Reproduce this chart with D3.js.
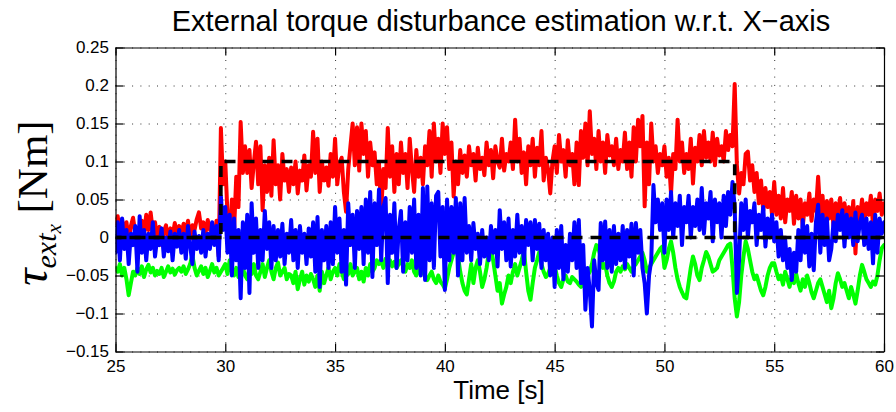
<!DOCTYPE html>
<html>
<head>
<meta charset="utf-8">
<script src="https://cdn.jsdelivr.net/npm/d3@7"></script>
<style>
  body { margin: 0; background: #fff; }
  svg { display: block; }
</style>
</head>
<body>
<div id="chart"></div>
<script>
// External torque disturbance estimate (X axis), sampled every 0.1 s from 25 s to 60 s

const startTime = 25;
const sampleStep = 0.1;

// red: estimate along the stepped reference
const redTorque = [
  .018,.028,.005,.024,.002,.020,-.004,.015,.026,.006,
  .012,-.006,.022,.004,.030,.010,.033,.008,.020,.000,
  .014,-.010,.008,.016,-.004,.012,.002,.019,.006,.015,
  .004,.018,.008,.022,-.002,.016,.010,.024,.033,.012,
  .020,.006,.023,.010,.018,-.008,.022,-.025,.144,.070,
  .100,.030,-.005,.050,.010,.080,.040,.152,.085,.120,
  .085,.115,.065,.098,.126,.070,.120,.036,.095,.060,
  .105,.055,.128,.070,.095,.050,.110,.075,.090,.060,
  .092,.070,.100,.058,.088,.075,.108,.062,.095,.080,
  .139,.085,.130,.060,.100,.075,.092,.068,.110,.080,
  .130,.070,.098,.105,.060,.034,.090,.120,.150,.095,
  .145,.088,.150,.110,.140,.080,.125,.095,.112,.070,
  .098,.034,.090,.065,.144,.080,.120,.060,.110,.070,
  .125,.085,.110,.065,.130,.090,.060,.115,.080,.105,
  .070,.120,.095,.140,.080,.150,.100,.130,.085,.150,
  .110,.145,.090,.125,.054,.100,.070,.115,.085,.108,
  .080,.120,.095,.110,.075,.118,.090,.105,.082,.125,
  .095,.115,.078,.120,.100,.092,.130,.088,.110,.100,
  .125,.090,.155,.100,.130,.085,.112,.070,.120,.095,
  .130,.080,.118,.095,.140,.075,.105,.090,.058,.100,
  .120,.085,.135,.100,.115,.080,.128,.095,.110,.070,
  .125,.069,.140,.105,.150,.095,.166,.110,.130,.090,
  .140,.100,.125,.085,.135,.108,.120,.095,.130,.090,
  .115,.100,.138,.090,.125,.080,.145,.100,.155,.120,
  .160,.041,.125,.070,.150,.100,.120,.085,.110,.095,
  .120,.080,.105,.058,.110,.090,.155,.100,.125,.085,
  .110,.090,.130,.071,.118,.100,.135,.095,.140,.105,
  .125,.100,.138,.095,.130,.108,.120,.100,.140,.115,
  .135,.120,.202,.095,.058,.085,.070,.110,.113,.075,
  .095,.060,.085,.045,.075,.035,.065,.040,.060,.030,
  .073,.030,.055,.025,.065,.020,.050,.035,.060,.018,
  .055,.025,.050,.014,.045,.030,.058,.022,.050,.035,
  .080,.030,.055,.020,.048,.025,.050,.015,.045,.028,
  .052,.020,.045,.025,.040,.010,.048,-.021,.040,.025,
  .050,.020,.045,.030,.055,.015,.050,.035,.058,.030,
  .045
];

// green
const greenTorque = [
  -.040,-.045,-.035,-.050,-.040,-.055,-.076,-.060,-.045,-.050,
  -.040,-.048,-.038,-.052,-.042,-.036,-.046,-.040,-.050,-.044,
  -.048,-.040,-.052,-.045,-.038,-.046,-.041,-.049,-.043,-.040,
  -.045,-.038,-.048,-.042,-.035,-.023,-.040,-.050,-.044,-.038,
  -.048,-.040,-.052,-.044,-.035,-.046,-.040,-.050,-.045,-.040,
  -.035,-.048,-.030,-.045,-.050,-.040,-.052,-.045,-.040,-.050,
  -.055,-.040,-.048,-.035,-.050,-.055,-.045,-.035,-.052,-.040,
  -.030,-.045,-.055,-.040,-.033,-.050,-.045,-.040,-.055,-.048,
  -.050,-.060,-.045,-.068,-.055,-.045,-.062,-.050,-.058,-.048,
  -.055,-.065,-.050,-.070,-.045,-.060,-.050,-.040,-.055,-.045,
  -.040,-.050,-.035,-.045,-.055,-.040,-.048,-.035,-.050,-.045,
  -.040,-.055,-.045,-.058,-.040,-.050,-.035,-.045,-.040,-.030,
  -.035,-.030,-.040,-.028,-.035,-.030,-.038,-.032,-.040,-.035,
  -.030,-.038,-.045,-.035,-.040,-.030,-.045,-.050,-.040,-.048,
  -.045,-.050,-.056,-.050,-.045,-.055,-.060,-.050,-.058,-.062,
  -.067,-.055,-.040,-.030,-.020,-.012,-.025,-.045,-.060,-.070,
  -.075,-.055,-.035,-.060,-.040,-.030,-.045,-.065,-.055,-.040,
  -.020,-.015,-.030,-.050,-.070,-.060,-.087,-.075,-.065,-.050,
  -.060,-.045,-.035,-.050,-.040,-.030,-.017,-.045,-.070,-.082,
  -.060,-.040,-.030,-.019,-.035,-.045,-.052,-.048,-.040,-.045,
  -.038,-.050,-.060,-.065,-.055,-.050,-.058,-.060,-.052,-.055,
  -.058,-.062,-.065,-.060,-.055,-.050,-.045,-.035,-.020,-.010,
  -.015,-.025,-.040,-.035,-.050,-.060,-.065,-.058,-.045,-.040,
  -.045,-.038,-.042,-.035,-.040,-.045,-.038,-.035,-.030,-.025,
  -.020,-.030,-.045,-.040,-.035,-.030,-.025,-.020,-.015,-.012,
  -.040,-.030,-.015,-.005,-.020,-.040,-.055,-.065,-.072,-.078,
  -.080,-.060,-.040,-.025,-.035,-.050,-.056,-.040,-.030,-.019,
  -.025,-.035,-.045,-.043,-.040,-.030,-.025,-.020,-.015,-.010,
  -.008,-.040,-.080,-.104,-.085,-.050,-.025,-.005,-.015,-.030,
  -.045,-.055,-.050,-.060,-.070,-.076,-.065,-.050,-.040,-.034,
  -.034,-.045,-.055,-.050,-.062,-.045,-.055,-.065,-.050,-.060,
  -.048,-.060,-.070,-.055,-.065,-.050,-.060,-.072,-.080,-.070,
  -.060,-.055,-.065,-.075,-.085,-.070,-.093,-.080,-.060,-.047,
  -.055,-.065,-.060,-.070,-.080,-.065,-.075,-.087,-.070,-.050,
  -.036,-.045,-.055,-.060,-.065,-.058,-.062,-.050,-.030,-.014,
  -.010
];

// blue
const blueTorque = [
  -.020,.020,-.030,.025,-.015,.010,-.035,.005,-.010,.015,
  -.045,.028,-.020,.010,-.030,.005,-.015,.020,-.025,.000,
  -.010,.012,-.025,.000,-.018,.008,-.030,.005,-.012,.010,
  -.020,.005,-.028,.015,-.010,-.035,.008,-.015,.002,-.020,
  .010,-.025,.005,-.015,.020,-.010,.015,-.030,.054,.010,
  .040,-.020,.030,-.050,.025,-.030,.010,-.080,.020,-.040,
  .030,-.073,.045,-.020,.025,-.040,.010,-.030,.035,-.015,
  .020,-.040,.015,-.030,.010,-.025,.018,-.035,.005,-.020,
  .023,-.030,.010,-.040,.015,-.020,.005,-.035,.012,-.025,
  .020,-.045,.027,-.065,.010,-.030,.015,-.040,.020,-.035,
  .040,-.020,.025,-.045,.010,-.062,.045,-.010,.030,-.040,
  .035,-.015,.040,-.035,.050,-.020,.060,-.052,.045,-.010,
  .063,-.030,.040,.052,-.060,.030,-.020,.045,-.040,.010,
  .035,-.045,.020,-.030,.040,-.020,.050,-.040,.030,-.050,
  .065,-.056,.067,-.030,.045,-.040,.055,.060,-.025,.040,
  -.069,.050,-.030,.040,-.020,.052,-.050,.045,-.030,.052,
  -.020,.015,-.030,.019,-.015,.005,-.035,.010,-.025,.000,
  -.030,.015,-.020,.010,-.038,.036,-.015,.020,-.030,.025,
  -.038,.010,-.025,.030,-.020,.015,-.035,.023,-.010,.020,
  -.030,.023,-.015,.018,-.040,.010,-.030,.005,-.050,.000,
  -.065,.010,-.040,.015,-.055,-.010,-.045,.005,-.030,.020,
  -.040,.023,-.060,-.010,-.095,-.040,-.070,-.117,-.030,-.060,
  -.069,.019,-.030,.021,-.040,.010,-.045,.015,-.035,.005,
  -.030,.015,-.040,.010,-.025,.018,-.050,.019,-.020,.010,
  -.040,-.060,-.100,-.050,-.030,.069,.020,.050,.010,.045,
  -.020,.050,.010,.060,.000,.045,.015,.055,-.010,.040,
  .020,.055,.000,.040,.015,.050,.010,.065,.005,.045,
  .025,.060,-.005,.050,.020,.045,.000,.055,.015,.060,
  .030,.073,.040,-.073,-.030,.045,.010,.050,.000,.035,
  .020,.045,-.010,.030,.010,.040,-.012,.025,.000,.030,
  -.005,.020,-.025,.010,-.030,-.003,-.040,-.015,-.056,-.020,
  -.045,.010,-.030,.023,-.020,.015,-.038,.005,-.043,.020,
  .043,-.020,.030,-.010,.025,-.030,-.015,.020,-.005,.030,
  .010,.036,-.012,.030,.000,.025,-.010,.033,-.005,.020,
  .030,-.010,.025,-.015,.020,-.034,.030,-.020,.025,.005,
  .020
];

// dashed references
const stepTimes = [25, 29.8, 29.8, 53.2, 53.2, 60];
const stepValues = [0, 0, 0.1, 0.1, 0, 0];
const zeroTimes = [25, 60];
const zeroValues = [0, 0];

const xTicks = [25, 30, 35, 40, 45, 50, 55, 60];
const yTicks = [-0.15, -0.1, -0.05, 0, 0.05, 0.1, 0.15, 0.2, 0.25];
const yTickLabels = ["\u22120.15", "\u22120.1", "\u22120.05", "0", "0.05", "0.1", "0.15", "0.2", "0.25"];

const width = 896, height = 412;
const plot = { left: 115.5, right: 884, top: 47.5, bottom: 351.5 };
const axisFont = "'Liberation Sans', Arial, Helvetica, sans-serif";

const svg = d3.select("#chart").append("svg")
  .attr("width", width)
  .attr("height", height);

const x = d3.scaleLinear().domain([25, 60]).range([plot.left, plot.right]);
const y = d3.scaleLinear().domain([-0.15, 0.25]).range([plot.bottom, plot.top]);

// dotted grid
const grid = svg.append("g");
grid.append("g")
  .attr("transform", `translate(0,${plot.bottom})`)
  .call(d3.axisBottom(x).tickValues(xTicks).tickSize(-(plot.bottom - plot.top)).tickFormat(""))
  .call(g => g.select(".domain").remove());
grid.append("g")
  .attr("transform", `translate(${plot.left},0)`)
  .call(d3.axisLeft(y).tickValues(yTicks).tickSize(-(plot.right - plot.left)).tickFormat(""))
  .call(g => g.select(".domain").remove());
grid.selectAll("line")
  .attr("stroke", "#333")
  .attr("stroke-width", 1)
  .attr("stroke-dasharray", "1,7.3");

// series
svg.append("clipPath").attr("id", "clip")
  .append("rect")
  .attr("x", plot.left).attr("y", plot.top)
  .attr("width", plot.right - plot.left).attr("height", plot.bottom - plot.top);

const timeAt = i => startTime + i * sampleStep;
const sampled = d3.line().x((d, i) => x(timeAt(i))).y(d => y(d));
const paired = (ts, vs) => d3.line()(ts.map((t, i) => [x(t), y(vs[i])]));

const lines = svg.append("g").attr("clip-path", "url(#clip)")
  .attr("fill", "none")
  .attr("stroke-linejoin", "round")
  .attr("stroke-linecap", "round");

[[redTorque, "#ff0000"], [greenTorque, "#00ff00"], [blueTorque, "#0000ff"]].forEach(([vals, col]) => {
  lines.append("path")
    .attr("d", sampled(vals))
    .attr("stroke", col)
    .attr("stroke-width", 4);
});

lines.append("path")
  .attr("d", paired(zeroTimes, zeroValues))
  .attr("stroke", "#000").attr("stroke-width", 3.6)
  .attr("stroke-linecap", "butt")
  .attr("stroke-dasharray", "11,8");
lines.append("path")
  .attr("d", paired(stepTimes, stepValues))
  .attr("stroke", "#000").attr("stroke-width", 3.6)
  .attr("stroke-linecap", "butt")
  .attr("stroke-dasharray", "11,8")
  .attr("stroke-dashoffset", 5);

// box with inward ticks
const styleAxis = g => {
  g.select(".domain").attr("stroke", "#000").attr("stroke-width", 1.2);
  g.selectAll(".tick line").attr("stroke", "#000").attr("stroke-width", 1.2);
  g.selectAll("text")
    .attr("fill", "#000")
    .style("font-family", axisFont)
    .style("font-size", "17px");
};

svg.append("g")
  .attr("transform", `translate(0,${plot.bottom})`)
  .call(d3.axisBottom(x).tickValues(xTicks).tickSize(-8).tickSizeOuter(0).tickPadding(8.5))
  .call(styleAxis);
svg.append("g")
  .attr("transform", `translate(${plot.left},0)`)
  .call(d3.axisLeft(y).tickValues(yTicks).tickSize(-8).tickSizeOuter(0).tickPadding(6.5)
    .tickFormat((d, i) => yTickLabels[i]))
  .call(styleAxis);
svg.append("g")
  .attr("transform", `translate(0,${plot.top})`)
  .call(d3.axisTop(x).tickValues(xTicks).tickSize(-8).tickSizeOuter(0).tickFormat(""))
  .call(styleAxis);
svg.append("g")
  .attr("transform", `translate(${plot.right},0)`)
  .call(d3.axisRight(y).tickValues(yTicks).tickSize(-8).tickSizeOuter(0).tickFormat(""))
  .call(styleAxis);

// title
svg.append("text")
  .attr("x", 501)
  .attr("y", 31)
  .attr("text-anchor", "middle")
  .style("font-family", axisFont)
  .style("font-size", "29px")
  .text("External torque disturbance estimation w.r.t. X\u2212axis");

// x label
svg.append("text")
  .attr("x", 499)
  .attr("y", 399)
  .attr("text-anchor", "middle")
  .style("font-family", axisFont)
  .style("font-size", "26px")
  .text("Time [s]");

// y label: tau_{ext_x} [Nm]
const yl = svg.append("text")
  .attr("transform", "translate(47,203) rotate(-90)")
  .attr("text-anchor", "middle")
  .style("font-family", "'Liberation Serif', 'DejaVu Serif', serif")
  .style("font-size", "43px");
yl.append("tspan").style("font-style", "italic").style("font-size", "48px").text("\u03c4");
yl.append("tspan").style("font-style", "italic").style("font-size", "30px").attr("dy", 9).text("ext");
yl.append("tspan").style("font-style", "italic").style("font-size", "21px").attr("dy", 5).text("x");
yl.append("tspan").attr("dy", -14).text(" [Nm]");
</script>
</body>
</html>
